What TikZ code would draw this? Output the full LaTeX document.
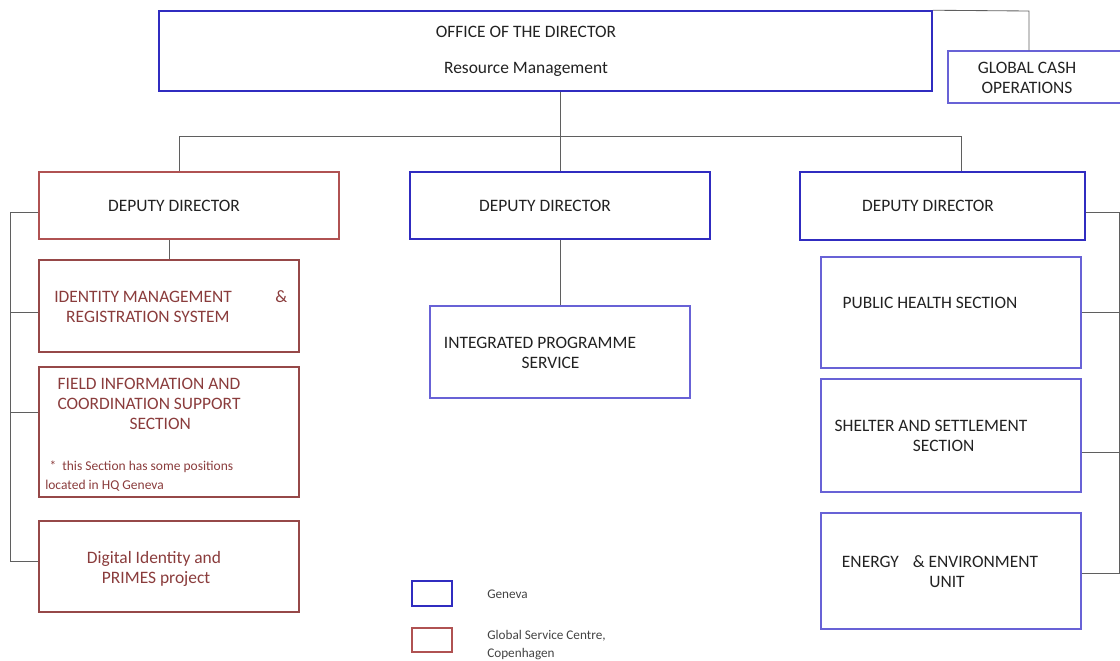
\documentclass[tikz,border=0pt]{standalone}
\usepackage{fontspec}
\setmainfont{Carlito}
\definecolor{genblue}{RGB}{48,44,192}
\definecolor{genlight}{RGB}{104,98,214}
\definecolor{gscred}{RGB}{176,82,82}
\definecolor{gscdark}{RGB}{150,72,72}
\definecolor{ink}{RGB}{34,34,34}
\definecolor{redink}{RGB}{138,60,60}
\definecolor{wire}{RGB}{95,95,95}

\begin{document}
\begin{tikzpicture}[
    x=0.025cm, y=-0.025cm,
    box/.style 2 args={rectangle, draw, minimum width=#1*0.025cm, minimum height=#2*0.025cm, inner sep=0pt},
    geneva/.style={draw=genblue, line width=1.1pt},
    genunit/.style={draw=genlight, line width=0.9pt},
    gsc/.style={draw=gscred, line width=0.9pt},
    gscunit/.style={draw=gscdark, line width=0.9pt},
    txt/.style={font=\fontsize{12.4}{14.2}\selectfont, text=ink, align=center, inner sep=0pt},
    redtxt/.style={txt, text=redink},
    rednote/.style={font=\fontsize{9.6}{13.6}\selectfont, text=redink, inner sep=0pt},
    legtxt/.style={font=\fontsize{9.4}{12.8}\selectfont, text=ink!85, inner sep=0pt},
    link/.style={draw=wire, line width=0.6pt}
]
  \useasboundingbox (0,0) rectangle (1120,660);

  % office and global cash
  \node[box={773}{80}, geneva] (office) at (545.5,51) {};
  \node[txt] (office-t) at (526,51) {OFFICE OF THE DIRECTOR\\[11.4pt]Resource Management};
  \node[box={174}{52}, genunit] (gcash) at (1035,77) {};
  \node[txt] (gcash-t) at (1027,78) {GLOBAL CASH\\OPERATIONS};
  \coordinate (gcorner) at (1029,11);
  \draw[link] (office.north east) -- (gcorner) -- (gcorner |- gcash.north);

  % deputy directors
  \node[box={300}{67}, gsc] (dd1) at (189,205.5) {};
  \node[txt] (dd1-t) at (174,206) {DEPUTY DIRECTOR};
  \node[box={300}{67}, geneva] (dd2) at (560,205.5) {};
  \node[txt] (dd2-t) at (545,206) {DEPUTY DIRECTOR};
  \node[box={285}{68}, geneva] (dd3) at (942.5,206) {};
  \node[txt] (dd3-t) at (928,206) {DEPUTY DIRECTOR};

  \coordinate (busL) at (179,136);
  \coordinate (busM) at (560,136);
  \coordinate (busR) at (961,136);
  \draw[link] (office.south -| busM) -- (busM);
  \draw[link] (busL) -- (busR);
  \draw[link] (busL) -- (busL |- dd1.north);
  \draw[link] (busM) -- (dd2.north);
  \draw[link] (busR) -- (busR |- dd3.north);

  % left column
  \node[box={260}{92}, gscunit] (imrs) at (169,306) {};
  \node[redtxt, anchor=west, align=left] (imrs-t) at (54,307) {IDENTITY MANAGEMENT\hspace{31pt}\&\\\hspace*{8.5pt}REGISTRATION SYSTEM};
  \node[box={260}{130}, gscunit] (ficss) at (169,432) {};
  \node[redtxt] (ficss-t) at (149,404) {FIELD INFORMATION AND\\COORDINATION SUPPORT\\\hspace*{16pt}SECTION};
  \node[rednote, anchor=west, align=left] (ficss-n) at (45,476) {\hspace*{3pt}*\ \ this Section has some positions\\located in HQ Geneva};
  \node[box={260}{91}, gscunit] (dipp) at (169,566.5) {};
  \node[redtxt] (dipp-t) at (154,569) {Digital Identity and\\\hspace*{3pt}PRIMES project};
  \draw[link] (imrs.north) -- (imrs.north |- dd1.south);

  \coordinate (lbus1) at (10,212);
  \coordinate (lbus2) at (10,312);
  \coordinate (lbus3) at (10,412);
  \coordinate (lbus4) at (10,561);
  \draw[link] (lbus1 -| dd1.west) -- (lbus1) -- (lbus4) -- (lbus4 -| dipp.west);
  \draw[link] (lbus2) -- (lbus2 -| imrs.west);
  \draw[link] (lbus3) -- (lbus3 -| ficss.west);

  % middle column
  \node[box={260}{92}, genunit] (ips) at (560,352) {};
  \node[txt] (ips-t) at (540,353) {INTEGRATED PROGRAMME\\\hspace*{15pt}SERVICE};
  \draw[link] (dd2.south) -- (ips.north);

  % right column
  \node[box={260}{111}, genunit] (phs) at (951,312.5) {};
  \node[txt] (phs-t) at (930,303) {PUBLIC HEALTH SECTION};
  \node[box={260}{113}, genunit] (sss) at (951,435.5) {};
  \node[txt] (sss-t) at (931,436) {SHELTER AND SETTLEMENT\\\hspace*{18pt}SECTION};
  \node[box={260}{116}, genunit] (eeu) at (951,571) {};
  \node[txt] (eeu-t) at (940,572) {ENERGY\hspace{10pt}\& ENVIRONMENT\\\hspace*{10pt}UNIT};

  \coordinate (rbus1) at (1119.5,212);
  \coordinate (rbus2) at (1119.5,312);
  \coordinate (rbus3) at (1119.5,452);
  \coordinate (rbus4) at (1119.5,573);
  \draw[link] (rbus1 -| dd3.east) -- (rbus1) -- (rbus4) -- (rbus4 -| eeu.east);
  \draw[link] (rbus2) -- (rbus2 -| phs.east);
  \draw[link] (rbus3) -- (rbus3 -| sss.east);

  % legend
  \node[box={40}{25}, geneva] (leg-gen) at (432,593.5) {};
  \node[legtxt, anchor=west] (leg-gen-t) at (487,594) {Geneva};
  \node[box={40}{24}, gsc] (leg-gsc) at (432,640) {};
  \node[legtxt, anchor=west, align=left] (leg-gsc-t) at (487,645) {Global Service Centre,\\Copenhagen};
\end{tikzpicture}
\end{document}
